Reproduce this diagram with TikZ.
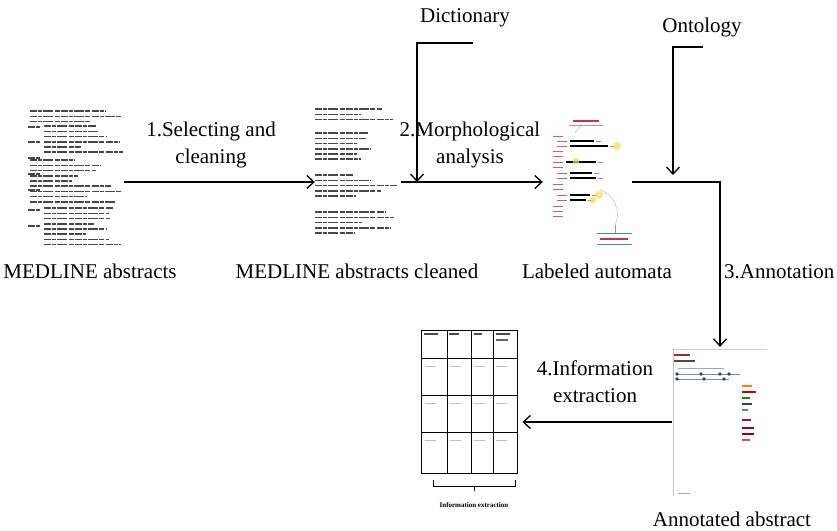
\documentclass[tikz,border=0pt]{standalone}
\usepackage{fontspec}
\setmainfont{Liberation Serif}
\usetikzlibrary{arrows.meta, positioning, calc}
\definecolor{inkgray}{HTML}{474747}
\definecolor{tagred}{HTML}{C8324A}
\definecolor{hilite}{HTML}{F2DC5A}
\definecolor{tealline}{HTML}{3A9A8C}
\definecolor{dotblue}{HTML}{2E3A8C}

% a block of blurred text lines: x, y top, width, count, seed
\newcommand{\fakepara}[5]{%
  \pgfmathsetseed{#5}%
  \foreach \i in {1,...,#4}{%
    \pgfmathsetmacro{\len}{#3*(0.45+0.55*rnd)}%
    \draw[txtline] (#1,#2+\i*5.2) -- ++(\len,0);
  }}

\begin{document}
\begin{tikzpicture}[
  x=1pt, y=-1pt,
  lbl/.style={font=\fontsize{21}{27}\selectfont, align=center, inner sep=0pt},
  thumb/.style={inner sep=0pt, draw=none},
  arr/.style={-{Straight Barb[length=7pt,width=13pt]}, line width=1.3pt},
  txtline/.style={line width=1.6pt, inkgray,
                  dash pattern=on 7pt off 1.2pt on 4pt off 1.2pt on 10pt off 1.2pt on 5pt off 1.2pt},
  grid/.style={line width=0.9pt, black},
  faint/.style={line width=0.6pt, black!25}
]
  \useasboundingbox (0,0) rectangle (837,530);

  % document thumbnails
  \node[thumb, minimum width=96, minimum height=144] (raw) at (76,182) {};
  \node[thumb, minimum width=86, minimum height=148] (clean) at (358,182) {};
  \node[thumb, minimum width=80, minimum height=128] (auto) at (592,182) {};
  \node[thumb, minimum width=96, minimum height=150] (annot) at (720,422) {};
  \node[draw, grid, inner sep=0pt, minimum width=96, minimum height=143] (table) at (469,401.5) {};

  % raw abstract text
  \fakepara{30}{106}{94}{3}{11}
  \fakepara{44}{121}{80}{6}{12}
  \fakepara{30}{155}{94}{9}{13}
  \fakepara{44}{203}{80}{8}{14}
  \foreach \yy in {127,142,158,174,190,210,226}{
    \draw[txtline] (28,\yy) -- ++(12,0);
  }

  % cleaned abstract text
  \fakepara{315}{104}{85}{3}{21}
  \fakepara{315}{128}{85}{6}{22}
  \fakepara{315}{170}{85}{5}{23}
  \fakepara{315}{207}{85}{5}{24}

  % automaton sketch
  \draw[tagred, line width=1.6pt] (573,121) -- (599,121);
  \draw[tagred!60, line width=0.5pt] (569,125) -- (603,125);
  \draw[tagred!50, line width=0.4pt] (586,125) to[bend right=30] (575,133);
  \foreach \yy/\dx/\bl in {136/0/0, 141/4/24, 146/4/38, 151/0/0, 156/0/0,
                            162/0/30, 167/0/0, 173/4/22, 178/4/26, 184/0/0,
                            189/0/0, 195/4/20, 200/4/16, 206/0/0, 211/0/0, 216/0/0}{
    \draw[tagred!80, line width=0.8pt] (553+\dx,\yy) -- ++(10,0);
    \ifnum\bl>0
      \draw[black, line width=1.4pt] (566+\dx,\yy) -- ++(\bl,0);
      \draw[tagred!70, line width=0.8pt] (568+\dx+\bl,\yy) -- ++(5,0);
    \fi
  }
  \fill[hilite, opacity=0.7] (617,146) circle (4);
  \fill[hilite, opacity=0.7] (576,161) circle (3.5);
  \fill[hilite, opacity=0.7] (599,195) circle (4);
  \fill[hilite, opacity=0.7] (593,200) circle (3.5);
  \draw[tagred!50, line width=0.4pt] (600,190) to[bend left=50] (615,225);
  \draw[black!40, line width=0.4pt] (615,225) -- (615,233);
  \draw[tealline, line width=0.6pt] (597,233) -- (632,233);
  \draw[tagred, line width=1.4pt] (600,239) -- (628,239);
  \draw[tealline, line width=0.6pt] (597,244) -- (632,244);

  % annotated abstract sketch
  \draw[black!20, line width=0.6pt] (672,349) -- (767,349);
  \draw[black!25, line width=0.6pt] (673,350) -- (673,496);
  \draw[tagred!80!black, line width=1.6pt] (674,355) -- (690,355);
  \draw[black!70, line width=1.3pt] (674,361) -- (695,361);
  \draw[black!35, line width=0.7pt] (678,368) -- (724,368);
  \draw[dotblue!60, line width=0.7pt] (677,374) -- (740,374);
  \draw[dotblue!60, line width=0.7pt] (677,379) -- (729,379);
  \foreach \xx in {677,701,720,729}{
    \fill[dotblue] (\xx,374) circle (1.8);
  }
  \foreach \xx in {677,704,724}{
    \fill[dotblue] (\xx,379) circle (1.8);
  }
  \foreach \yy/\cc/\ww in {386/orange/10, 392/red!80!black/14, 398/green!60!black/8,
                           404/dotblue/10, 410/dotblue!70/6, 420/purple/9,
                           428/violet/12, 434/red!60!black/12, 440/purple!70/8}{
    \draw[\cc, line width=2.5pt] (742,\yy) -- ++(\ww,0);
  }
  \draw[black!35, line width=0.5pt] (678,493) -- (690,493);

  % results table
  \foreach \yy in {358,395,432}{
    \draw[grid] (table.west |- 0,\yy) -- (table.east |- 0,\yy);
  }
  \foreach \xx in {447,471,493}{
    \draw[grid] (\xx,0 |- table.north) -- (\xx,0 |- table.south);
  }
  \foreach \xx/\ww in {424/14, 449/10, 474/8, 496/14}{
    \draw[black!70, line width=1.3pt] (\xx,334) -- ++(\ww,0);
  }
  \draw[black!60, line width=1.1pt] (496,340) -- ++(12,0);
  \foreach \yy in {366,403,440}{
    \foreach \xx in {425,450,474,496}{
      \draw[faint] (\xx,\yy) -- ++(11,0);
    }
  }
  \draw[line width=0.6pt] (433,480) -- (433,486) -- (515,486) -- (515,480)
    (474,486) -- (474,491);
  \node[font=\fontsize{7}{8}\selectfont\bfseries, inner sep=0pt, anchor=base]
    (tablecap) at (474,507) {Information extraction};

  % resource inputs
  \node[lbl] (dict) at (465,18) {Dictionary};
  \node[lbl] (onto) at (702,27) {Ontology};
  \coordinate (dictfeed) at (473,43);
  \coordinate (dictin) at (417,182);
  \coordinate (ontofeed) at (703,47);
  \coordinate (ontoin) at (673,175);

  % pipeline steps
  \draw[arr] (raw.east) -- (clean.west);
  \draw[arr, shorten >=9pt] (clean.east) -- (auto.west);
  \draw[arr] (auto.east) -| (annot.north);
  \draw[arr, shorten >=5pt] (annot.west) -- (annot.west -| table.east);
  \draw[arr] (dictfeed) -| (dictin);
  \draw[arr] (ontofeed) -| (ontoin);

  % step labels
  \node[lbl] (step1) at (211,145) {1.Selecting and\\cleaning};
  \node[lbl] (step2) at (470,145) {2.Morphological\\analysis};
  \node[lbl, anchor=base west] (step3) at (724,278) {3.Annotation};
  \node[lbl] (step4) at (595,382) {4.Information\\extraction};

  % document captions
  \node[lbl, anchor=base] (rawcap) at (90,278) {MEDLINE abstracts};
  \node[lbl, anchor=base] (cleancap) at (357,278) {MEDLINE abstracts cleaned};
  \node[lbl, anchor=base] (autocap) at (597,278) {Labeled automata};
  \node[lbl, anchor=base] (annotcap) at (732,526) {Annotated abstract};
\end{tikzpicture}
\end{document}
